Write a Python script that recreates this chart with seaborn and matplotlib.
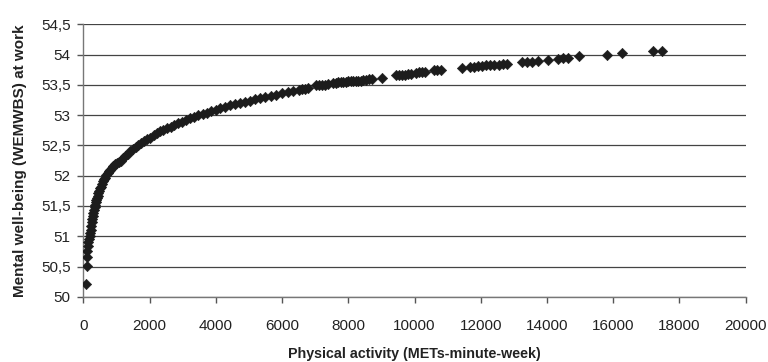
import numpy as np
import pandas as pd
import seaborn as sns
import matplotlib.pyplot as plt
from matplotlib.ticker import FuncFormatter

# physical activity (METs-minute-week)
activity = [
    70, 100, 105, 120, 140, 155, 170, 190, 205, 225, 240, 255, 270, 285, 300,
    320, 340, 355, 375, 390, 405, 430, 455, 480, 505, 530, 560, 590, 620, 650,
    690, 730, 770, 810, 860, 910, 960, 1010, 1070, 1130, 1200, 1270, 1340, 1420,
    1500, 1580, 1660, 1750, 1840, 1930, 2020, 2120, 2220, 2320, 2420, 2530, 2640,
    2750, 2860, 2980, 3100, 3220, 3340, 3470, 3600, 3730, 3860, 4000, 4140, 4280,
    4420, 4570, 4720, 4870, 5020, 5180, 5340, 5500, 5660, 5830, 6000, 6170, 6340,
    6520, 6602, 6693, 6783,
    7025, 7116, 7206, 7297, 7388,
    7545, 7620, 7689, 7765, 7840, 7916, 7992, 8067, 8143, 8218, 8294, 8369, 8445,
    8535, 8626, 8716,
    9009, 9441, 9531, 9622, 9712, 9803, 9893, 10044, 10135, 10225, 10316,
    10587, 10678, 10799, 11433, 11674, 11795, 11916, 12036, 12157, 12278, 12399,
    12550, 12671, 12792, 13244, 13395, 13546, 13727, 14029, 14331, 14482, 14633,
    14965, 15810, 16263, 17199, 17471,
]

# mental well-being (WEMWBS) at work
wellbeing = [
    50.21, 50.51, 50.66, 50.76, 50.84, 50.90, 50.95, 51.00, 51.05, 51.11, 51.17,
    51.23, 51.28, 51.33, 51.38, 51.43, 51.48, 51.52, 51.56, 51.60, 51.63, 51.67,
    51.71, 51.75, 51.79, 51.82, 51.87, 51.91, 51.94, 51.97, 52.01, 52.04, 52.07,
    52.10, 52.13, 52.16, 52.19, 52.21, 52.23, 52.25, 52.29, 52.32, 52.36, 52.40,
    52.44, 52.47, 52.50, 52.54, 52.57, 52.60, 52.63, 52.67, 52.70, 52.73, 52.75,
    52.78, 52.81, 52.84, 52.87, 52.89, 52.92, 52.95, 52.97, 53.00, 53.02, 53.04,
    53.07, 53.09, 53.11, 53.14, 53.16, 53.18, 53.20, 53.22, 53.24, 53.26, 53.28,
    53.30, 53.32, 53.34, 53.36, 53.38, 53.40, 53.42, 53.43, 53.43, 53.44,
    53.49, 53.49, 53.50, 53.50, 53.51,
    53.53, 53.53, 53.54, 53.54, 53.55, 53.55, 53.56, 53.56, 53.56, 53.57, 53.57,
    53.57, 53.58, 53.58, 53.59, 53.59,
    53.62, 53.66, 53.66, 53.67, 53.67, 53.68, 53.68, 53.70, 53.71, 53.71, 53.72,
    53.74, 53.74, 53.75, 53.78, 53.80, 53.80, 53.81, 53.81, 53.82, 53.82, 53.83,
    53.83, 53.84, 53.84, 53.87, 53.88, 53.88, 53.89, 53.91, 53.93, 53.94, 53.95,
    53.97, 54.00, 54.02, 54.06, 54.06,
]

x_ticks = list(range(0, 20001, 2000))
y_ticks = np.arange(50, 54.51, 0.5)


def main():
    sns.set_style("white")
    plt.rcParams['font.family'] = ['Liberation Sans', 'DejaVu Sans']

    df = pd.DataFrame({"activity": activity, "wellbeing": wellbeing})

    fig, ax = plt.subplots(figsize=(7.68, 3.62), dpi=100)
    fig.subplots_adjust(left=0.1085, right=0.971, top=0.933, bottom=0.180)

    # horizontal gridlines behind the markers
    for yv in y_ticks:
        ax.axhline(yv, color="#444444", lw=0.9, zorder=0)

    sns.scatterplot(data=df, x="activity", y="wellbeing", marker="D", s=28,
                    color="#1c1c1c", edgecolor="#1c1c1c", linewidth=0.4,
                    ax=ax, zorder=3)

    ax.set_xlim(0, 20000)
    ax.set_ylim(50, 54.5)
    ax.set_xticks(x_ticks)
    ax.set_yticks(y_ticks)
    ax.yaxis.set_major_formatter(
        FuncFormatter(lambda v, p: f"{v:g}".replace(".", ",")))

    for side in ["top", "right"]:
        ax.spines[side].set_visible(False)
    for side in ["left", "bottom"]:
        ax.spines[side].set_color("#777777")
        ax.spines[side].set_linewidth(1.0)

    ax.tick_params(axis="both", which="major", direction="out", length=4,
                   width=1.0, color="#555555", labelsize=11,
                   labelcolor="#222222", bottom=True, left=True)
    ax.tick_params(axis="x", pad=12)
    ax.tick_params(axis="y", pad=5)

    ax.set_xlabel("Physical activity (METs-minute-week)", fontsize=10.3,
                  fontweight="bold", color="#222222", labelpad=10)
    ax.set_ylabel("Mental well-being (WEMWBS) at work", fontsize=11,
                  fontweight="bold", color="#222222", labelpad=10)

    fig.savefig("out.png", dpi=100)
    plt.close(fig)


if __name__ == "__main__":
    main()
